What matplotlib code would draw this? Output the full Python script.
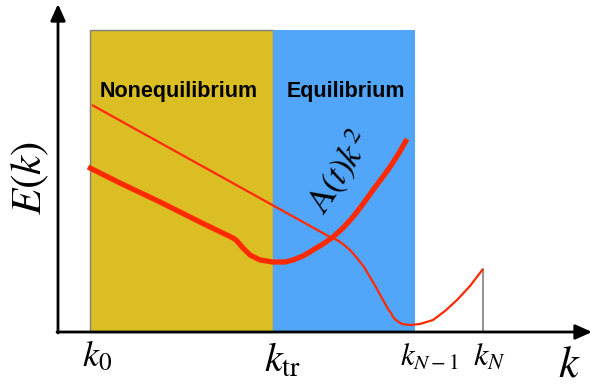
import matplotlib.pyplot as plt
from matplotlib.patches import Rectangle

plt.rcParams['mathtext.fontset'] = 'stix'

# coordinates in picture units (x right, y down)
k0, ktr, kN1, kN = 90, 273, 415, 483
top, base = 30, 332

thick_k = [88, 120, 160, 200, 233, 236, 243, 250, 260, 273, 285, 293, 303, 313,
           323, 333, 343, 353, 363, 373, 382, 390, 399, 407]
thick_E = [167, 183, 202, 222, 238, 240, 248, 255, 260, 262, 262, 260, 256, 250,
           244, 237, 228, 217, 204, 190, 178, 167, 153, 139]

thin_k = [92, 330, 337, 343, 350, 357, 364, 370, 377, 383, 388,
          391, 393, 397, 402, 410, 420, 433, 445, 457, 470, 483]
thin_E = [105, 237, 240, 244, 250, 258, 267, 277, 289, 300, 309,
          313, 317, 321, 324, 325, 324, 320, 311, 300, 286, 269]

fig = plt.figure(figsize=(5.92, 3.85), dpi=100)
ax = fig.add_axes([0, 0, 1, 1])
ax.set_xlim(0, 592)
ax.set_ylim(385, 0)
ax.axis('off')

ax.add_patch(Rectangle((k0, top), ktr - k0, base - top, facecolor='#DBBD24',
                       edgecolor='#808080', lw=1))
ax.add_patch(Rectangle((ktr, top), kN1 - ktr, base - top, facecolor='#51A6F9',
                       edgecolor='none'))

ax.plot([kN, kN], [thin_E[-1], base], color='#808080', lw=1.2)
ax.plot(thin_k, thin_E, color='#FF2A00', lw=1.6, solid_capstyle='butt')
ax.plot(thick_k, thick_E, color='#FF2A00', lw=3.8, solid_capstyle='butt')

# axes with arrows
ax.annotate('', xy=(592, base), xytext=(57, base),
            arrowprops=dict(arrowstyle='-|>,head_length=1.0,head_width=0.45',
                            color='black', lw=2, shrinkA=0, shrinkB=0))
ax.annotate('', xy=(58, 4), xytext=(58, base + 1),
            arrowprops=dict(arrowstyle='-|>,head_length=1.0,head_width=0.45',
                            color='black', lw=2, shrinkA=0, shrinkB=0))

ax.text(179, 92, 'Nonequilibrium', fontsize=15.5, fontweight='bold',
        family='Liberation Sans', ha='center', va='center')
ax.text(346, 92, 'Equilibrium', fontsize=15.5, fontweight='bold',
        family='Liberation Sans', ha='center', va='center')

ax.text(30, 178, r'$E(k)$', fontsize=31, rotation=90, ha='center', va='center')
ax.text(340, 172, r'$\mathrm{A}(t)k^2$', fontsize=25, rotation=57,
        ha='center', va='center')

ax.text(97, 356, r'$k_0$', fontsize=26, ha='center', va='center')
ax.text(283, 361, r'$k_{\mathrm{tr}}$', fontsize=29, ha='center', va='center')
ax.text(429, 357, r'$k_{N-1}$', fontsize=22, ha='center', va='center')
ax.text(489, 357, r'$k_N$', fontsize=23, ha='center', va='center')
ax.text(569, 364, r'$k$', fontsize=32, ha='center', va='center')

fig.savefig('out.png', dpi=100)
